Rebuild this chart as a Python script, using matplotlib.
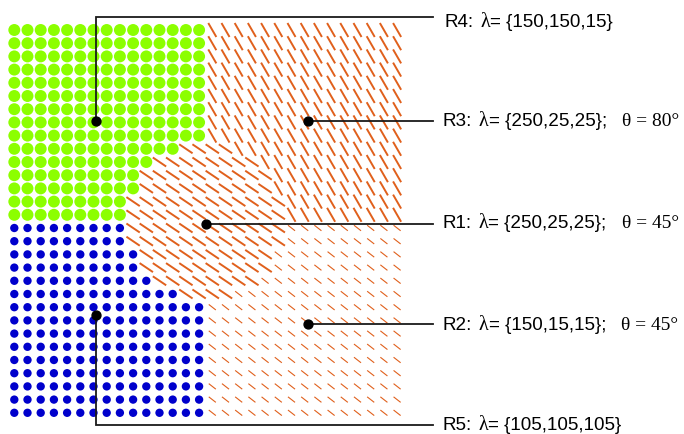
#!/usr/bin/env python3
"""
plot.py - tensor-glyph test field: 5 regions (R1..R5) on a 30x30 grid,
spheres for isotropic regions, line glyphs for oriented ones.
"""
import numpy as np
import matplotlib
matplotlib.use("Agg")
import matplotlib.pyplot as plt
from matplotlib.collections import LineCollection

# ---- data (grid units, row 0 at the top) ----
N_GRID = 30
HALF = 15                                   # quadrant split
# R1: central band, per-row first/last column of long 45deg glyphs
R1_ROWS = list(range(9, 21))
R1_FIRST = [13, 11, 10, 10, 9, 9, 9, 9, 10, 10, 11, 13]
R1_LAST = [16, 18, 19, 19, 20, 20, 20, 20, 19, 19, 18, 16]

REGIONS = ["R4", "R3", "R1", "R2", "R5"]
LAMBDAS = ["{150,150,15}", "{250,25,25};", "{250,25,25};", "{150,15,15};", "{105,105,105}"]
THETAS = [None, "80", "45", "45", None]
# probe point of each label (col, row)
PROBE_X = [6.2, 22.27, 14.52, 22.27, 6.2]
PROBE_Y = [6.9, 6.9, 14.7, 22.27, 21.6]

# glyph look per oriented region: screen angle (deg), length (grid units), lw
GLYPH = {"R3": (60, 1.22, 1.4), "R1": (34, 1.22, 1.4), "R2": (38, 0.68, 0.8)}
ORANGE = "#E0601C"
GREEN = "#8CFF00"
BLUE = "#0000CC"

PX = 13.2          # pixels per grid unit
X0, Y0 = 14.3, 30  # pixel position of cell (0, 0)
W, H = 684, 434


def region_map():
    reg = np.empty((N_GRID, N_GRID), dtype=object)
    reg[:HALF, :HALF] = "R4"
    reg[HALF:, :HALF] = "R5"
    reg[:HALF, HALF:] = "R3"
    reg[HALF:, HALF:] = "R2"
    for r, a, b in zip(R1_ROWS, R1_FIRST, R1_LAST):
        reg[r, a:b + 1] = "R1"
    return reg


def label(fig, ax, x, y, pieces, size=13.6):
    # chain text pieces on one baseline (sans + serif greek, like the original)
    fig.canvas.draw()
    rend = fig.canvas.get_renderer()
    px, py = ax.transData.transform((x, y))
    for s, fam, gap, fs in pieces:
        t = ax.text(px, py, s, transform=None, family=fam, fontsize=fs or size,
                    va="baseline", ha="left", color="black")
        px = t.get_window_extent(rend).x1 + gap


def main():
    fig = plt.figure(figsize=(W / 100, H / 100), dpi=100)
    ax = fig.add_axes([0, 0, 1, 1])
    ax.set_xlim(-X0 / PX, (W - X0) / PX)
    ax.set_ylim((H - Y0) / PX, -Y0 / PX)
    ax.axis("off")

    reg = region_map()
    rows, cols = np.mgrid[0:N_GRID, 0:N_GRID]

    m = reg == "R4"
    ax.scatter(cols[m], rows[m], s=74, color=GREEN, edgecolors="none", zorder=2)
    m = reg == "R5"
    ax.scatter(cols[m], rows[m], s=36, color=BLUE, edgecolors="none", zorder=2)

    for name, (ang, ln, lw) in GLYPH.items():
        m = reg == name
        cx, cy = cols[m].astype(float), rows[m].astype(float)
        dx = 0.5 * ln * np.cos(np.radians(ang))
        dy = 0.5 * ln * np.sin(np.radians(ang))
        segs = np.stack([np.c_[cx - dx, cy - dy], np.c_[cx + dx, cy + dy]], axis=1)
        ax.add_collection(LineCollection(segs, colors=ORANGE, linewidths=lw,
                                         capstyle="butt", zorder=2))

    # leader lines
    x_end = (433 - X0) / PX
    y_top = (17.3 - Y0) / PX
    y_bot = (425.3 - Y0) / PX
    lc = "#1a1a1a"
    for i, name in enumerate(REGIONS):
        px_, py_ = PROBE_X[i], PROBE_Y[i]
        if name == "R4":
            xs, ys = [px_, px_, x_end], [py_, y_top, y_top]
        elif name == "R5":
            xs, ys = [px_, px_, x_end], [py_, y_bot, y_bot]
        else:
            xs, ys = [px_, x_end], [py_, py_]
        ax.plot(xs, ys, color=lc, lw=1.3, solid_joinstyle="miter", zorder=3)
        ax.plot(px_, py_, "o", color="black", ms=6.4, zorder=4)

    # labels: baseline pixel rows
    base_px = [26.7, 126, 227.7, 330, 430.5]
    x_px = [445, 443, 443, 443, 443]
    sans, serif = "Liberation Sans", "Liberation Serif"
    for i, name in enumerate(REGIONS):
        pieces = [(f"{name}:", sans, 6, None), ("\u03bb", serif, 0.5, 14.5),
                  (f"= {LAMBDAS[i]}", sans, 15, None)]
        if THETAS[i]:
            pieces.append((f"\u03b8 = {THETAS[i]}\u00b0", serif, 0, 14))
        label(fig, ax, (x_px[i] - X0) / PX, (base_px[i] - Y0) / PX, pieces)

    fig.savefig("out.png", dpi=100)


if __name__ == "__main__":
    main()
